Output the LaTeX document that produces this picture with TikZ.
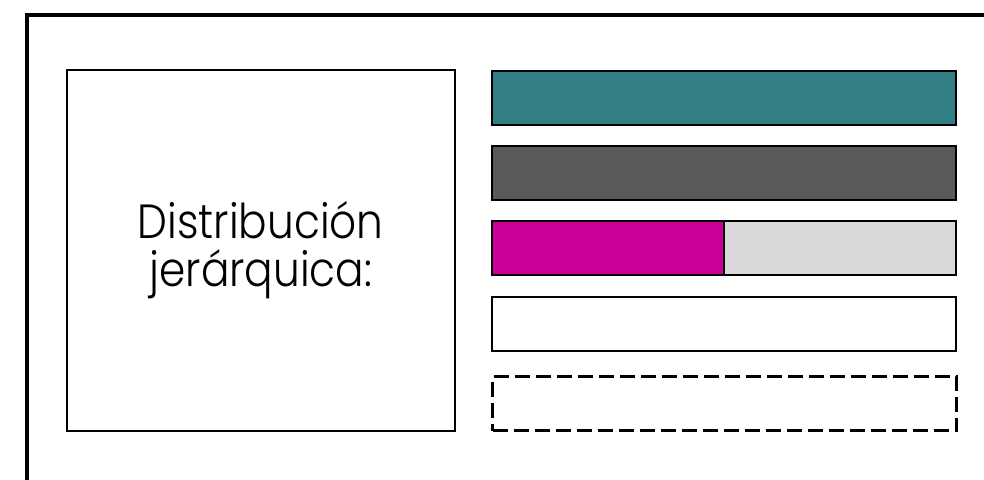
\documentclass[tikz,border=0pt]{standalone}
\usepackage{fontspec}
\setmainfont{Poppins}
\newfontfamily\labelfont[FakeStretch=0.88,UprightFont=* Light]{Poppins}
\definecolor{teal1}{HTML}{317F84}
\definecolor{dgray}{HTML}{595959}
\definecolor{mag}{HTML}{CC0099}
\definecolor{lgray}{HTML}{D9D9D9}
\begin{document}
\begin{tikzpicture}[x=1pt,y=-1pt,
  bar/.style={draw=black,line width=2pt,minimum height=54pt,anchor=north west,inner sep=0pt},
  frame/.style={draw=black,line width=3.5pt}]
\useasboundingbox (0,0) rectangle (984,479);
\draw[frame] (27,485) -- (27,15) -- (990,15);
\node[draw=black,line width=1.5pt,minimum width=388pt,minimum height=361pt,anchor=north west,inner sep=0pt,
  align=center,font=\labelfont\fontsize{48}{48}\selectfont] (label) at (66,69) {Distribución\\jerárquica:};
\node[bar,fill=teal1,minimum width=464pt] (b1) at (491,70) {};
\node[bar,fill=dgray,minimum width=464pt] (b2) at (491,145) {};
\node[bar,fill=lgray,minimum width=464pt] (b3) at (491,220) {};
\node[bar,fill=mag,minimum width=232pt] (b3a) at (491,220) {};
\node[bar,fill=white,minimum width=464pt] (b4) at (491,296) {};
\node[bar,line width=3pt,dash pattern=on 15pt off 6pt,minimum width=464pt] (b5) at (491,375) {};
\end{tikzpicture}
\end{document}
